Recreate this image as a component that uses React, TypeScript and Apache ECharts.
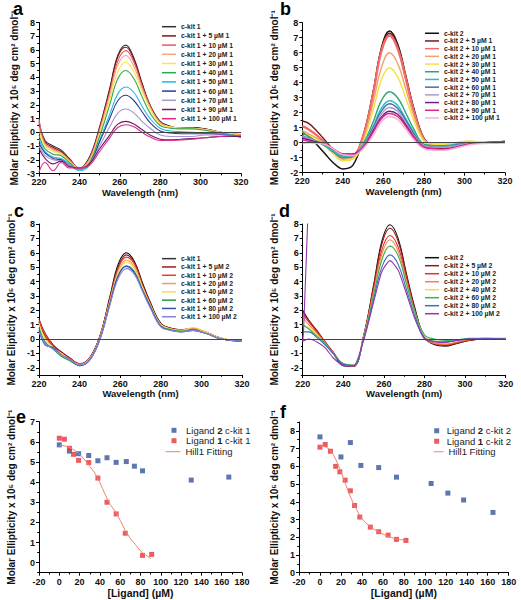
import React, { useEffect, useRef } from 'react';
import * as echarts from 'echarts';

// ---------- shared wavelength grid (nm) ----------
const WL = [220, 223, 227, 231, 235, 240, 245, 250, 255, 259, 263, 267, 271, 275, 280, 285, 290, 296, 302, 310, 320];

// ---------- panel a ----------
const aNames = ['c-kit 1', 'c-kit 1 + 5 µM 1', 'c-kit 1 + 10 µM 1', 'c-kit 1 + 20 µM 1', 'c-kit 1 + 30 µM 1', 'c-kit 1 + 40 µM 1', 'c-kit 1 + 50 µM 1', 'c-kit 1 + 60 µM 1', 'c-kit 1 + 70 µM 1', 'c-kit 1 + 90 µM 1', 'c-kit 1 + 100 µM 1'];
const aColors = ['#333333', '#7b1515', '#ee5566', '#f5a67e', '#fbe54a', '#2ea84f', '#28b8e0', '#2c3a96', '#a597d2', '#6c1a6c', '#e02a8a'];
const aValues = [
  [0.8, -0.6, -1.0, -1.3, -1.9, -2.6, -1.8, 0.4, 3.2, 5.6, 6.35, 5.4, 3.6, 2.0, 0.8, 0.45, 0.3, 0.35, 0.25, 0.0, -0.2],
  [0.6, -0.7, -1.1, -1.4, -2.0, -2.6, -1.9, 0.3, 3.1, 5.5, 6.2, 5.3, 3.5, 1.9, 0.75, 0.4, 0.3, 0.35, 0.25, 0.0, -0.2],
  [1.0, -0.8, -1.2, -1.5, -2.0, -2.6, -1.9, 0.2, 2.9, 5.2, 5.95, 5.1, 3.4, 1.9, 0.7, 0.4, 0.3, 0.3, 0.2, 0.0, -0.2],
  [0.4, -0.9, -1.3, -1.5, -2.1, -2.6, -2.0, 0.1, 2.7, 4.9, 5.6, 4.8, 3.2, 1.8, 0.7, 0.4, 0.3, 0.3, 0.2, 0.0, -0.15],
  [0.2, -1.0, -1.4, -1.6, -2.1, -2.7, -2.1, -0.1, 2.4, 4.4, 5.1, 4.4, 3.0, 1.7, 0.6, 0.4, 0.3, 0.3, 0.2, 0.0, -0.2],
  [-0.2, -1.2, -1.6, -1.7, -2.2, -2.7, -2.2, -0.3, 2.0, 3.9, 4.5, 3.9, 2.6, 1.4, 0.5, 0.3, 0.25, 0.25, 0.15, -0.05, -0.3],
  [-0.5, -1.4, -1.8, -1.9, -2.3, -2.8, -2.4, -0.6, 1.3, 2.8, 3.3, 2.9, 1.9, 1.0, 0.3, 0.1, 0.05, 0.0, -0.05, -0.1, -0.3],
  [-0.8, -1.5, -1.9, -2.0, -2.4, -2.7, -2.3, -0.7, 1.0, 2.3, 2.7, 2.3, 1.5, 0.7, 0.1, -0.05, -0.1, -0.1, -0.1, -0.15, -0.35],
  [-1.0, -1.7, -2.0, -2.1, -2.4, -2.7, -2.3, -1.0, 0.4, 1.4, 1.7, 1.4, 0.8, 0.3, -0.2, -0.3, -0.3, -0.3, -0.2, -0.2, -0.3],
  [-1.2, -1.9, -2.3, -2.1, -2.5, -2.6, -2.3, -1.2, -0.2, 0.6, 0.8, 0.6, 0.2, -0.2, -0.5, -0.55, -0.5, -0.45, -0.4, -0.3, -0.3],
  [-2.9, -2.2, -2.8, -2.2, -2.6, -2.6, -2.4, -1.4, -0.4, 0.35, 0.55, 0.4, 0.0, -0.35, -0.6, -0.6, -0.55, -0.5, -0.4, -0.3, -0.2],
];

// ---------- panel b ----------
const bNames = ['c-kit 2', 'c-kit 2 + 5 µM 1', 'c-kit 2 + 10 µM 1', 'c-kit 2 + 20 µM 1', 'c-kit 2 + 30 µM 1', 'c-kit 2 + 40 µM 1', 'c-kit 2 + 50 µM 1', 'c-kit 2 + 60 µM 1', 'c-kit 2 + 70 µM 1', 'c-kit 2 + 80 µM 1', 'c-kit 2 + 90 µM 1', 'c-kit 2 + 100 µM 1'];
const bColors = ['#111111', '#7a1818', '#f26b6b', '#f4a268', '#f5e040', '#2fa27a', '#26bfc0', '#4670a6', '#a99bc9', '#741a86', '#e3288b', '#f6b2d6'];
const bWidths = [1.5, 1.4, 2.4, 1.4, 1.4, 1.4, 1.4, 1.4, 1.4, 1.4, 1.4, 1.4];
const bValues = [
  [0.6, 0.5, -0.1, -0.7, -1.3, -1.75, -1.5, 0.3, 3.4, 6.3, 7.45, 6.6, 4.5, 2.3, 0.3, -0.3, -0.4, -0.2, 0.0, 0.0, 0.1],
  [1.45, 1.3, 0.8, 0.2, -0.4, -0.85, -0.8, 0.5, 3.4, 6.2, 7.3, 6.5, 4.4, 2.2, 0.2, -0.3, -0.45, -0.3, 0.0, 0.0, 0.05],
  [1.1, 0.9, 0.5, 0.0, -0.5, -1.0, -0.9, 0.4, 3.3, 6.1, 7.15, 6.3, 4.3, 2.1, 0.2, -0.2, -0.3, -0.2, 0.0, 0.0, 0.05],
  [0.8, 0.6, 0.3, -0.1, -0.6, -1.1, -1.0, 0.2, 2.7, 5.0, 6.0, 5.3, 3.6, 1.8, 0.2, -0.1, -0.1, 0.0, 0.1, 0.05, 0.05],
  [0.7, 0.5, 0.2, -0.2, -0.7, -1.2, -1.1, 0.0, 2.2, 4.2, 5.0, 4.4, 3.0, 1.5, 0.1, -0.1, -0.1, 0.0, 0.1, 0.05, 0.0],
  [0.75, 0.4, 0.1, -0.2, -0.6, -1.0, -0.9, -0.1, 1.4, 2.8, 3.4, 3.0, 2.0, 0.9, -0.1, -0.2, -0.2, -0.1, 0.0, 0.0, 0.05],
  [0.5, 0.3, 0.1, -0.2, -0.5, -0.9, -0.85, -0.1, 1.1, 2.3, 2.8, 2.5, 1.6, 0.7, -0.2, -0.25, -0.25, -0.1, 0.0, 0.0, 0.05],
  [0.4, 0.3, 0.1, -0.1, -0.4, -0.8, -0.8, -0.2, 1.0, 2.1, 2.6, 2.3, 1.5, 0.6, -0.2, -0.3, -0.3, -0.15, -0.05, 0.0, 0.05],
  [0.4, 0.3, 0.1, -0.1, -0.4, -0.8, -0.8, -0.2, 0.9, 1.9, 2.35, 2.1, 1.3, 0.5, -0.2, -0.3, -0.3, -0.2, -0.05, 0.0, 0.05],
  [0.3, 0.2, 0.05, -0.1, -0.4, -0.75, -0.75, -0.3, 0.8, 1.7, 2.1, 1.9, 1.2, 0.4, -0.3, -0.4, -0.45, -0.3, -0.1, 0.0, 0.05],
  [0.2, 0.1, 0.0, -0.1, -0.4, -0.75, -0.8, -0.3, 0.7, 1.6, 1.95, 1.75, 1.1, 0.35, -0.3, -0.4, -0.45, -0.3, -0.1, 0.0, 0.05],
  [-0.1, 0.0, -0.05, -0.1, -0.4, -0.8, -0.85, -0.4, 0.5, 1.4, 1.75, 1.55, 0.9, 0.2, -0.4, -0.5, -0.5, -0.35, -0.15, -0.05, 0.0],
];

// ---------- panel c ----------
const cNames = ['c-kit 1', 'c-kit 1 + 5 µM 2', 'c-kit 1 + 10 µM 2', 'c-kit 1 + 20 µM 2', 'c-kit 1 + 40 µM 2', 'c-kit 1 + 60 µM 2', 'c-kit 1 + 80 µM 2', 'c-kit 1 + 100 µM 2'];
const cColors = ['#111111', '#9c1b1b', '#e8402c', '#f49a62', '#f6df52', '#279a48', '#3251b0', '#8383e0'];
const cValues = [
  [1.2, 0.2, -0.5, -0.9, -1.3, -1.75, -1.3, 0.2, 3.0, 5.2, 6.0, 5.4, 3.9, 2.5, 1.1, 0.75, 0.65, 0.7, 0.45, 0.0, -0.15],
  [1.4, 0.4, -0.4, -0.9, -1.3, -1.7, -1.3, 0.2, 2.9, 5.0, 5.85, 5.3, 3.8, 2.4, 1.05, 0.75, 0.65, 0.75, 0.5, 0.05, -0.15],
  [1.3, 0.3, -0.5, -1.0, -1.35, -1.75, -1.35, 0.15, 2.8, 4.9, 5.7, 5.2, 3.7, 2.4, 1.0, 0.7, 0.6, 0.7, 0.45, 0.05, -0.15],
  [1.0, 0.1, -0.6, -1.0, -1.4, -1.75, -1.35, 0.1, 2.7, 4.7, 5.5, 5.0, 3.6, 2.3, 1.0, 0.7, 0.6, 0.75, 0.45, 0.05, -0.15],
  [1.1, 0.0, -0.6, -1.0, -1.4, -1.8, -1.4, 0.1, 2.6, 4.6, 5.35, 4.9, 3.6, 2.3, 1.0, 0.7, 0.6, 0.8, 0.5, 0.05, -0.1],
  [0.8, -0.2, -0.7, -1.2, -1.5, -1.85, -1.45, 0.0, 2.5, 4.4, 5.1, 4.7, 3.4, 2.2, 0.9, 0.65, 0.55, 0.6, 0.4, 0.0, -0.15],
  [0.6, -0.4, -0.6, -1.1, -1.4, -1.85, -1.45, 0.0, 2.5, 4.4, 5.05, 4.6, 3.4, 2.2, 0.9, 0.6, 0.5, 0.6, 0.4, 0.0, -0.15],
  [0.5, -0.3, -0.7, -1.1, -1.4, -1.8, -1.45, -0.05, 2.4, 4.2, 4.9, 4.5, 3.3, 2.1, 0.85, 0.6, 0.5, 0.6, 0.4, 0.0, -0.15],
];

// ---------- panel d ----------
const dNames = ['c-kit 2', 'c-kit 2 + 5 µM 2', 'c-kit 2 + 10 µM 2', 'c-kit 2 + 20 µM 2', 'c-kit 2 + 40 µM 2', 'c-kit 2 + 60 µM 2', 'c-kit 2 + 80 µM 2', 'c-kit 2 + 100 µM 2'];
const dColors = ['#111111', '#961a1a', '#e52e2e', '#f38452', '#efe044', '#3cb05e', '#386fc2', '#9436b0'];
const dValues = [
  [2.0, 1.3, 0.5, -0.3, -1.0, -1.85, -1.9, 0.2, 3.8, 6.8, 7.95, 7.0, 4.6, 2.3, 0.1, -0.4, -0.5, -0.3, -0.1, 0.0, 0.0],
  [1.9, 1.3, 0.6, -0.2, -0.9, -1.8, -1.9, 0.2, 3.7, 6.6, 7.7, 6.8, 4.5, 2.2, 0.1, -0.35, -0.45, -0.3, -0.1, 0.0, 0.0],
  [1.7, 1.2, 0.5, -0.2, -0.9, -1.75, -1.85, 0.2, 3.5, 6.2, 7.2, 6.4, 4.3, 2.1, 0.1, -0.3, -0.4, -0.25, -0.05, 0.0, 0.0],
  [1.5, 1.0, 0.4, -0.3, -1.0, -1.75, -1.85, 0.15, 3.3, 5.9, 6.9, 6.1, 4.1, 2.0, 0.1, -0.3, -0.35, -0.2, -0.05, 0.0, 0.0],
  [1.0, 0.8, 0.3, -0.3, -1.0, -1.7, -1.8, 0.1, 3.1, 5.6, 6.5, 5.8, 3.9, 1.9, 0.2, -0.1, -0.2, -0.1, 0.0, 0.05, 0.0],
  [1.0, 0.7, 0.2, -0.3, -1.0, -1.7, -1.8, 0.1, 3.1, 5.5, 6.45, 5.8, 3.9, 2.0, 0.3, 0.0, -0.1, -0.05, 0.05, 0.05, 0.05],
  [0.5, 0.5, 0.1, -0.4, -1.0, -1.75, -1.85, 0.0, 2.8, 5.0, 5.85, 5.2, 3.5, 1.7, 0.1, -0.15, -0.2, -0.1, 0.0, 0.05, 0.0],
  [-0.15, 0.0, -0.2, -0.6, -1.3, -1.85, -1.9, -0.1, 2.6, 4.7, 5.45, 4.8, 3.2, 1.5, 0.0, -0.2, -0.25, -0.1, 0.0, 0.0, 0.0],
];
// artefact spike at the start of the last curve in panel d
const dSpikeX = [222.5, 220.4];
const dSpikeY = [8.4, 0.5];

// ---------- panel e ----------
const eL2x = [0, 10, 19, 29, 38, 47, 56, 66, 74, 82, 130, 167];
const eL2y = [5.85, 5.54, 5.41, 5.32, 5.06, 5.21, 4.98, 5.02, 4.79, 4.56, 4.1, 4.25];
const eL1x = [0, 5, 10, 14, 19, 29, 38, 47, 56, 65, 82, 91];
const eL1y = [6.18, 6.13, 5.68, 5.38, 5.08, 4.97, 4.2, 3.0, 2.42, 1.46, 0.36, 0.41];
const eFitX = [0, 5, 10, 15, 20, 25, 30, 35, 40, 45, 50, 55, 60, 65, 70, 75, 80, 85, 90];
const eFitY = [5.82, 5.8, 5.72, 5.58, 5.38, 5.1, 4.78, 4.45, 3.98, 3.4, 2.9, 2.55, 2.1, 1.6, 1.2, 0.9, 0.58, 0.38, 0.2];

// ---------- panel f ----------
const fL2x = [0, 20, 29, 39, 56, 73, 106, 122, 137, 165];
const fL2y = [7.66, 6.53, 7.34, 6.05, 5.93, 5.39, 5.03, 4.49, 4.1, 3.4];
const fL1x = [0, 5, 10, 15, 19, 24, 29, 33, 38, 48, 56, 65, 73, 82];
const fL1y = [7.08, 7.23, 6.85, 6.0, 5.69, 5.22, 4.62, 3.79, 3.14, 2.57, 2.31, 2.12, 1.88, 1.82];
const fFitX = [0, 5, 10, 15, 20, 25, 30, 35, 40, 45, 50, 55, 60, 65, 70, 75, 82];
const fFitY = [7.15, 7.1, 6.9, 6.4, 5.7, 4.9, 4.15, 3.55, 3.05, 2.75, 2.5, 2.33, 2.18, 2.05, 1.95, 1.88, 1.83];

const Y_CD_TICKS = [-2, -1, 0, 1, 2, 3, 4, 5, 6, 7, 8];
const Y_E_TICKS = [0, 1, 2, 3, 4, 5, 6, 7];
const Y_F_TICKS = [0, 1, 2, 3, 4, 5, 6, 7, 8];

const BLUE = '#34559a';
const RED = '#e5333b';
const FIT = '#f0806e';
const FONT = 'Arial';

const YNAME = 'Molar Ellipticity x 10⁵ deg cm² dmol⁻¹';
const YNAME_CD = 'Molar Elipticity x 10⁵ deg cm² dmol⁻¹';

// ---------- layout ----------
const grids = [
  { left: 39, top: 22.5, width: 202, height: 151 },
  { left: 302.3, top: 22.7, width: 202.7, height: 150 },
  { left: 39, top: 224, width: 203, height: 151 },
  { left: 302.7, top: 224, width: 203, height: 151 },
  { left: 39, top: 421.7, width: 203, height: 151 },
  { left: 299, top: 422, width: 209.7, height: 150.7 },
];

const lineC = { color: '#000', width: 1 };
const baseAxis = {
  type: 'value',
  axisLine: { show: true, onZero: false, lineStyle: lineC },
  axisTick: { show: true, inside: false, length: 3, lineStyle: lineC },
  splitLine: { show: false },
  axisLabel: { fontSize: 9, fontWeight: 'bold', color: '#111', fontFamily: FONT, margin: 4 },
  nameLocation: 'middle',
  nameTextStyle: { fontSize: 10, fontWeight: 'bold', color: '#111', fontFamily: FONT },
};
const minor = { show: true, splitNumber: 2, length: 1.8, lineStyle: lineC };

function xAxisWL(gi: number, gap: number) {
  return { ...baseAxis, gridIndex: gi, min: 220, max: 320, interval: 20, minorTick: minor, name: 'Wavelength (nm)', nameGap: gap,
    nameTextStyle: { ...baseAxis.nameTextStyle, fontSize: 9.5 } };
}
function xAxisLig(gi: number, gap: number) {
  return { ...baseAxis, gridIndex: gi, min: -20, max: 180, interval: 20, minorTick: minor, name: '[Ligand] (µM)', nameGap: gap,
    axisLabel: { ...baseAxis.axisLabel, margin: 5 },
    nameTextStyle: { ...baseAxis.nameTextStyle, fontSize: 10.5 } };
}
function yAxisInt(gi: number, min: number, max: number, name: string, gap: number) {
  return { ...baseAxis, gridIndex: gi, position: 'left', min, max, interval: 1, minorTick: minor, name, nameGap: gap };
}
function yAxisCustom(gi: number, min: number, max: number, ticks: number[], name: string, gap: number) {
  return { ...baseAxis, gridIndex: gi, position: 'left', min, max, name, nameGap: gap,
    axisTick: { ...baseAxis.axisTick, customValues: ticks },
    axisLabel: { ...baseAxis.axisLabel, customValues: ticks } };
}
function yAxisMinor(gi: number, min: number, max: number) {
  return { type: 'value', gridIndex: gi, position: 'left', min, max, interval: 0.5,
    axisLine: { show: false, onZero: false }, axisLabel: { show: false }, splitLine: { show: false },
    axisTick: { show: true, inside: false, length: 1.8, lineStyle: lineC } };
}

const zeroLine = {
  silent: true, symbol: 'none', label: { show: false },
  lineStyle: { color: '#444', width: 1.2, type: 'solid' },
  data: [{ yAxis: 0 }],
};

function specSeries(names: string[], colors: string[], values: number[][], gi: number, widths?: number[]) {
  return names.map((n, i) => ({
    type: 'line', name: n, xAxisIndex: gi, yAxisIndex: gi,
    data: WL.map((w, j) => [w, values[i][j]]),
    smooth: 0.4, symbol: 'none', clip: true,
    lineStyle: { color: colors[i], width: widths ? widths[i] : 1.1 },
    itemStyle: { color: colors[i] },
    ...(i === 0 ? { markLine: zeroLine } : {}),
  }));
}

function specLegend(names: string[], left: number, top: number, pitch: number) {
  return {
    orient: 'vertical', left, top, padding: 0, itemGap: 0, itemWidth: 14, itemHeight: 1.5, icon: 'rect',
    selectedMode: false, data: names,
    textStyle: { fontSize: 6.8, fontWeight: 'bold', fontFamily: FONT, color: '#222', lineHeight: pitch },
  };
}

const ligFormatter = (name: string) => name.replace(/^Ligand (\d)/, 'Ligand {b|$1}');
function scatterLegend(names: string[], left: number, top: number, pitch: number, textPad: number) {
  return {
    orient: 'vertical', left, top, padding: 0, itemGap: 0, itemWidth: 5, itemHeight: 5, icon: 'rect',
    selectedMode: false, data: names, formatter: ligFormatter,
    textStyle: { fontSize: 9.5, fontFamily: FONT, color: '#222', lineHeight: pitch, padding: [0, 0, 0, textPad],
      rich: { b: { fontSize: 9.5, fontFamily: FONT, fontWeight: 'bold', color: '#222' } } },
  };
}
function fitLegend(left: number, top: number, pitch: number, w: number) {
  return {
    orient: 'vertical', left, top, padding: 0, itemGap: 0, itemWidth: w, itemHeight: 1, icon: 'rect',
    selectedMode: false, data: ['Hill1 Fitting'],
    textStyle: { fontSize: 9.5, fontFamily: FONT, color: '#222', lineHeight: pitch },
  };
}

const pairs = (xs: number[], ys: number[]) => xs.map((x, i) => [x, ys[i]]);

const dSeries = specSeries(dNames, dColors, dValues, 3);
const lastD: any = dSeries[dSeries.length - 1];
lastD.data = [...pairs(dSpikeX, dSpikeY), ...lastD.data];
lastD.smooth = 0.2;

const letter = (text: string, x: number, y: number) => ({
  type: 'text', x, y, style: { text, fontSize: 18, fontWeight: 'bold', fontFamily: FONT, fill: '#000', verticalAlign: 'middle' },
});

const option: any = {
  animation: false,
  backgroundColor: '#fff',
  textStyle: { fontFamily: FONT },
  grid: grids.map((g) => ({ ...g, containLabel: false, outerBoundsMode: 'none' })),
  xAxis: [xAxisWL(0, 11), xAxisWL(1, 11), xAxisWL(2, 13), xAxisWL(3, 13), xAxisLig(4, 11), xAxisLig(5, 11)],
  yAxis: [
    yAxisInt(0, -3, 8, YNAME, 20),
    yAxisInt(1, -2, 8, YNAME, 23),
    yAxisCustom(2, -2.5, 8, Y_CD_TICKS, YNAME_CD, 23),
    yAxisCustom(3, -2.5, 8, Y_CD_TICKS, YNAME_CD, 23),
    yAxisCustom(4, -0.5, 7, Y_E_TICKS, YNAME, 23),
    yAxisCustom(5, 0, 8.5, Y_F_TICKS, YNAME, 20),
    yAxisMinor(2, -2.5, 8),
    yAxisMinor(3, -2.5, 8),
    yAxisMinor(4, -0.5, 7),
    yAxisMinor(5, 0, 8.5),
  ],
  legend: [
    specLegend(aNames, 162, 22.1, 9.2),
    specLegend(bNames, 425, 29.4, 7.7),
    specLegend(cNames, 162, 254.5, 8.3),
    specLegend(dNames, 425, 253.7, 8.0),
    scatterLegend(['Ligand 2 c-kit 1', 'Ligand 1 c-kit 1'], 171.5, 425.1, 10.4, 4.5),
    fitLegend(165.5, 446.5, 10.4, 15),
    scatterLegend(['Ligand 2 c-kit 2', 'Ligand 1 c-kit 2'], 434.2, 425.5, 10.5, 2.5),
    fitLegend(433.5, 446.5, 10.5, 10),
  ],
  graphic: [
    letter('a', 13, 9),
    letter('b', 280, 9),
    letter('c', 14, 211),
    letter('d', 279, 211),
    letter('e', 16, 417),
    letter('f', 280, 412),
  ],
  series: [
    ...specSeries(aNames, aColors, aValues, 0),
    ...specSeries(bNames, bColors, bValues, 1, bWidths),
    ...specSeries(cNames, cColors, cValues, 2),
    ...dSeries,
    { type: 'line', name: 'Hill1 Fitting', xAxisIndex: 4, yAxisIndex: 4, data: pairs(eFitX, eFitY), smooth: 0.3, symbol: 'none',
      lineStyle: { color: FIT, width: 1 }, itemStyle: { color: FIT } },
    { type: 'scatter', name: 'Ligand 2 c-kit 1', xAxisIndex: 4, yAxisIndex: 4, data: pairs(eL2x, eL2y), symbol: 'rect', symbolSize: 5, itemStyle: { color: BLUE } },
    { type: 'scatter', name: 'Ligand 1 c-kit 1', xAxisIndex: 4, yAxisIndex: 4, data: pairs(eL1x, eL1y), symbol: 'rect', symbolSize: 5, itemStyle: { color: RED } },
    { type: 'line', name: 'Hill1 Fitting', xAxisIndex: 5, yAxisIndex: 5, data: pairs(fFitX, fFitY), smooth: 0.3, symbol: 'none',
      lineStyle: { color: FIT, width: 1 }, itemStyle: { color: FIT } },
    { type: 'scatter', name: 'Ligand 2 c-kit 2', xAxisIndex: 5, yAxisIndex: 5, data: pairs(fL2x, fL2y), symbol: 'rect', symbolSize: 5, itemStyle: { color: BLUE } },
    { type: 'scatter', name: 'Ligand 1 c-kit 2', xAxisIndex: 5, yAxisIndex: 5, data: pairs(fL1x, fL1y), symbol: 'rect', symbolSize: 5, itemStyle: { color: RED } },
  ],
};

export default function App() {
  const ref = useRef<HTMLDivElement>(null);
  useEffect(() => {
    const chart = echarts.init(ref.current as HTMLDivElement, null, { renderer: 'svg' });
    chart.setOption(option);
    return () => chart.dispose();
  }, []);
  return <div ref={ref} style={{ position: 'absolute', left: 0, top: 0, width: 521, height: 600, background: '#fff' }} />;
}
